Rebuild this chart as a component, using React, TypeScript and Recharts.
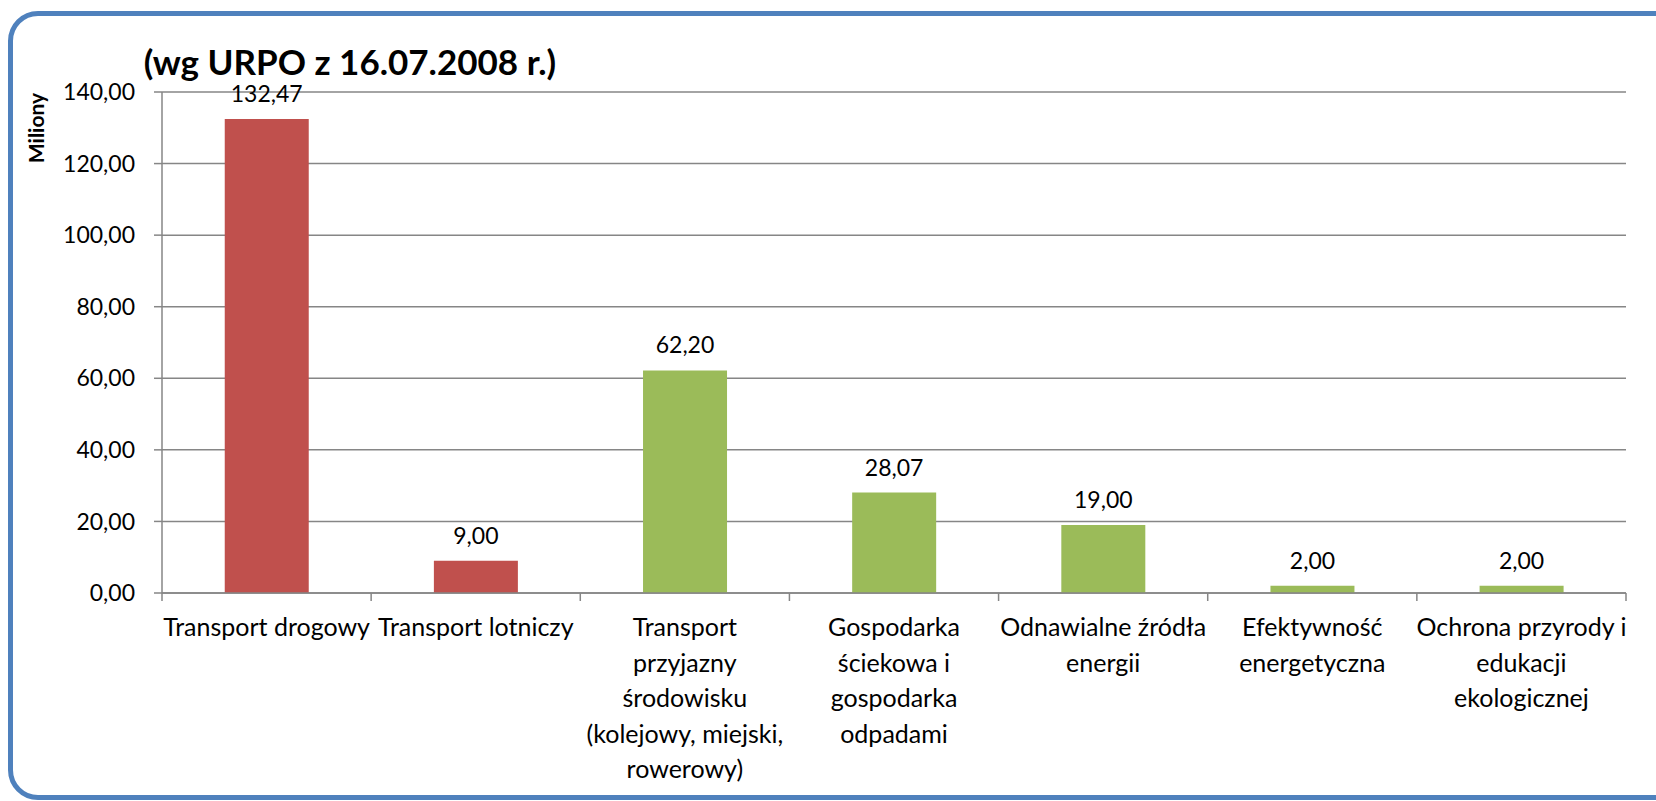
import React from 'react';
import { BarChart, Bar, XAxis, YAxis, CartesianGrid, Cell, LabelList } from 'recharts';

const categories = [
  'Transport drogowy',
  'Transport lotniczy',
  'Transport\nprzyjazny\nśrodowisku\n(kolejowy, miejski,\nrowerowy)',
  'Gospodarka\nściekowa i\ngospodarka\nodpadami',
  'Odnawialne źródła\nenergii',
  'Efektywność\nenergetyczna',
  'Ochrona przyrody i\nedukacji\nekologicznej',
];
const values = [132.47, 9.0, 62.2, 28.07, 19.0, 2.0, 2.0];
const yTicks = [0, 20, 40, 60, 80, 100, 120, 140];
const title = '(wg URPO z 16.07.2008 r.)';
const yLabel = 'Miliony';

const barFill = ['#C0504D', '#C0504D', '#9BBB59', '#9BBB59', '#9BBB59', '#9BBB59', '#9BBB59'];
const FONT = 'Lato, "Open Sans", sans-serif';
const AXIS = '#868686';

const data = categories.map((name, i) => ({ name, value: values[i] }));

const fmt = (v: unknown) => (typeof v === 'number' ? v.toFixed(2).replace('.', ',') : String(v));

function CategoryTick(props: any) {
  const { x, y, payload, index, visibleTicksCount, width } = props;
  const half = payload.offset ?? width / visibleTicksCount / 2;
  const lines = String(payload.value).split('\n');
  const last = index === visibleTicksCount - 1;
  return (
    <g>
      <line x1={x - half} x2={x - half} y1={y} y2={y + 8} stroke={AXIS} strokeWidth={1.5} />
      {last && <line x1={x + half} x2={x + half} y1={y} y2={y + 8} stroke={AXIS} strokeWidth={1.5} />}
      <text x={x} y={y + 43} textAnchor="middle" fill="#000" fontSize={25} fontFamily={FONT}>
        {lines.map((l, i) => (
          <tspan key={i} x={x} dy={i === 0 ? 0 : 35.5}>
            {l}
          </tspan>
        ))}
      </text>
    </g>
  );
}

function YTitle(props: any) {
  const { viewBox } = props;
  const cx = viewBox.x + 35;
  const cy = viewBox.y + 36;
  return (
    <text
      x={cx}
      y={cy}
      transform={`rotate(-90 ${cx} ${cy})`}
      textAnchor="middle"
      dominantBaseline="central"
      fontSize={21}
      fontWeight="bold"
      fontFamily={FONT}
      fill="#000"
    >
      {yLabel}
    </text>
  );
}

export default function App() {
  return (
    <div
      style={{
        position: 'fixed',
        left: 0,
        top: 0,
        width: 1656,
        height: 801,
        overflow: 'hidden',
        background: '#fff',
        fontFamily: FONT,
      }}
    >
      <div
        style={{
          position: 'absolute',
          left: 8,
          top: 11,
          width: 1720,
          height: 789,
          boxSizing: 'border-box',
          border: '5px solid #4F81BD',
          borderRadius: 30,
        }}
      />
      <div
        style={{
          position: 'absolute',
          left: 350,
          top: 61,
          transform: 'translate(-50%, -50%)',
          fontSize: 35,
          lineHeight: 1,
          fontWeight: 'bold',
          whiteSpace: 'nowrap',
          color: '#000',
        }}
      >
        {title}
      </div>
      <BarChart
        width={1656}
        height={801}
        data={data}
        margin={{ top: 92, right: 30, left: 0, bottom: 8 }}
        barCategoryGap="30%"
        style={{ position: 'absolute', left: 0, top: 0 }}
      >
        <CartesianGrid vertical={false} stroke={AXIS} strokeWidth={1.5} />
        <XAxis
          dataKey="name"
          interval={0}
          height={200}
          tickLine={false}
          tickSize={0}
          tickMargin={0}
          axisLine={{ stroke: AXIS, strokeWidth: 1.5 }}
          tick={<CategoryTick />}
        />
        <YAxis
          width={162}
          domain={[0, 140]}
          ticks={yTicks}
          interval={0}
          tickSize={8}
          tickMargin={19}
          tickFormatter={fmt}
          axisLine={{ stroke: AXIS, strokeWidth: 1.5 }}
          tickLine={{ stroke: AXIS, strokeWidth: 1.5 }}
          tick={{ fill: '#000', fontSize: 23, fontFamily: FONT }}
          label={<YTitle />}
        />
        <Bar dataKey="value" isAnimationActive={false}>
          {data.map((d, i) => (
            <Cell key={d.name} fill={barFill[i]} />
          ))}
          <LabelList
            dataKey="value"
            position="top"
            offset={17}
            formatter={fmt}
            fill="#000"
            fontSize={23}
            fontFamily={FONT}
          />
        </Bar>
      </BarChart>
    </div>
  );
}
